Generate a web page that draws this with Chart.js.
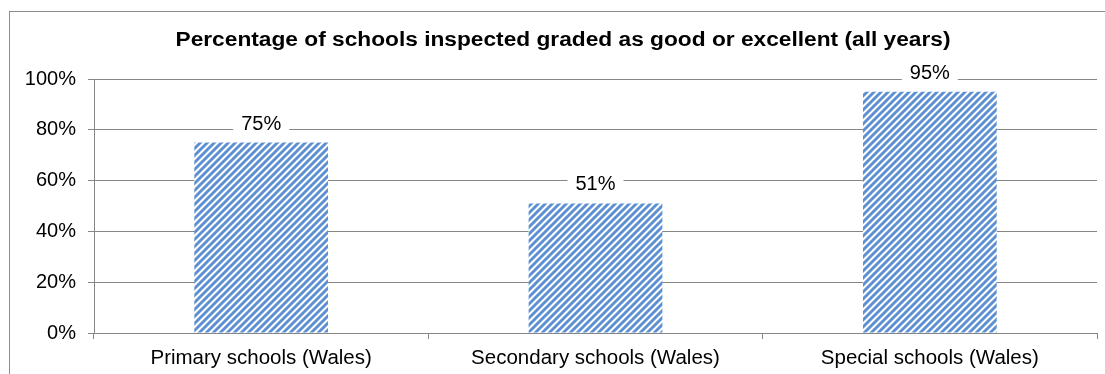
<!DOCTYPE html>
<html>
<head>
<meta charset="utf-8">
<script src="https://cdn.jsdelivr.net/npm/chart.js@4"></script>
<style>
html,body{margin:0;padding:0;background:#fff;}
#wrap{width:1105px;height:374px;position:relative;}
</style>
</head>
<body>
<div id="wrap"><canvas id="c" width="1105" height="374"></canvas></div>
<script>
const categories = ["Primary schools (Wales)", "Secondary schools (Wales)", "Special schools (Wales)"];
const values = [75, 51, 95];
const yTicks = [0, 20, 40, 60, 80, 100];
const chartTitle = "Percentage of schools inspected graded as good or excellent (all years)";

const FONT = "'Liberation Sans', Arial, sans-serif";
const GRID = '#868686';

function makePattern() {
  const s = 7;
  const t = document.createElement('canvas');
  t.width = s; t.height = s;
  const g = t.getContext('2d');
  g.fillStyle = '#ffffff';
  g.fillRect(0, 0, s, s);
  g.strokeStyle = '#5d90d2';
  g.lineWidth = 2.9;
  g.beginPath();
  g.moveTo(-1, s + 1); g.lineTo(s + 1, -1);
  g.moveTo(-2, 2); g.lineTo(2, -2);
  g.moveTo(s - 2, s + 2); g.lineTo(s + 2, s - 2);
  g.stroke();
  return document.getElementById('c').getContext('2d').createPattern(t, 'repeat');
}

const frame = {
  id: 'frame',
  beforeDraw(chart) {
    const ctx = chart.ctx;
    ctx.save();
    ctx.fillStyle = '#fff';
    ctx.fillRect(0, 0, chart.width, chart.height);
    ctx.strokeStyle = '#8c8c8c';
    ctx.lineWidth = 1;
    ctx.strokeRect(9.5, 11.5, chart.width + 20, chart.height + 20);
    ctx.fillStyle = '#000';
    ctx.font = 'bold 20px ' + FONT;
    ctx.textAlign = 'center';
    ctx.textBaseline = 'alphabetic';
    const w = ctx.measureText(chartTitle).width;
    const sx = 775 / w;
    ctx.translate(563, 46);
    ctx.scale(sx, 1);
    ctx.fillText(chartTitle, 0, 0);
    ctx.restore();
  }
};

const labels = {
  id: 'barLabels',
  afterDatasetsDraw(chart) {
    const ctx = chart.ctx;
    const meta = chart.getDatasetMeta(0);
    ctx.save();
    ctx.font = '20px ' + FONT;
    ctx.textAlign = 'center';
    ctx.textBaseline = 'alphabetic';
    meta.data.forEach((bar, i) => {
      const txt = values[i] + '%';
      const w = ctx.measureText(txt).width;
      const base = bar.y - 13;
      ctx.fillStyle = '#fff';
      ctx.fillRect(bar.x - w / 2 - 8, base - 17, w + 16, 22);
      ctx.fillStyle = '#000';
      ctx.fillText(txt, bar.x, base);
    });
    ctx.restore();
  }
};

new Chart(document.getElementById('c'), {
  type: 'bar',
  data: {
    labels: categories,
    datasets: [{
      data: values,
      backgroundColor: makePattern(),
      borderWidth: 0,
      categoryPercentage: 0.4,
      barPercentage: 1.0
    }]
  },
  options: {
    responsive: false,
    animation: false,
    devicePixelRatio: 1,
    layout: { padding: { left: 0, right: 8, top: 79, bottom: 0 } },
    plugins: { legend: { display: false }, tooltip: { enabled: false }, title: { display: false } },
    scales: {
      x: {
        offset: true,
        grid: { display: true, drawOnChartArea: false, drawTicks: true, tickLength: 6, color: GRID, offset: true },
        border: { display: true, color: GRID, width: 1 },
        ticks: { color: '#000', font: { family: FONT, size: 20.5 }, padding: 7, maxRotation: 0 },
        afterFit(s) { s.height = 41; }
      },
      y: {
        min: 0, max: 100,
        afterBuildTicks(s) { s.ticks = yTicks.map(v => ({ value: v })); },
        grid: { color: GRID, tickLength: 6, drawTicks: true },
        border: { display: true, color: GRID, width: 1 },
        ticks: { color: '#000', font: { family: FONT, size: 20 }, padding: 12, callback: v => v + '%' },
        afterFit(s) { s.width = 94; }
      }
    }
  },
  plugins: [frame, labels]
});
</script>
</body>
</html>
